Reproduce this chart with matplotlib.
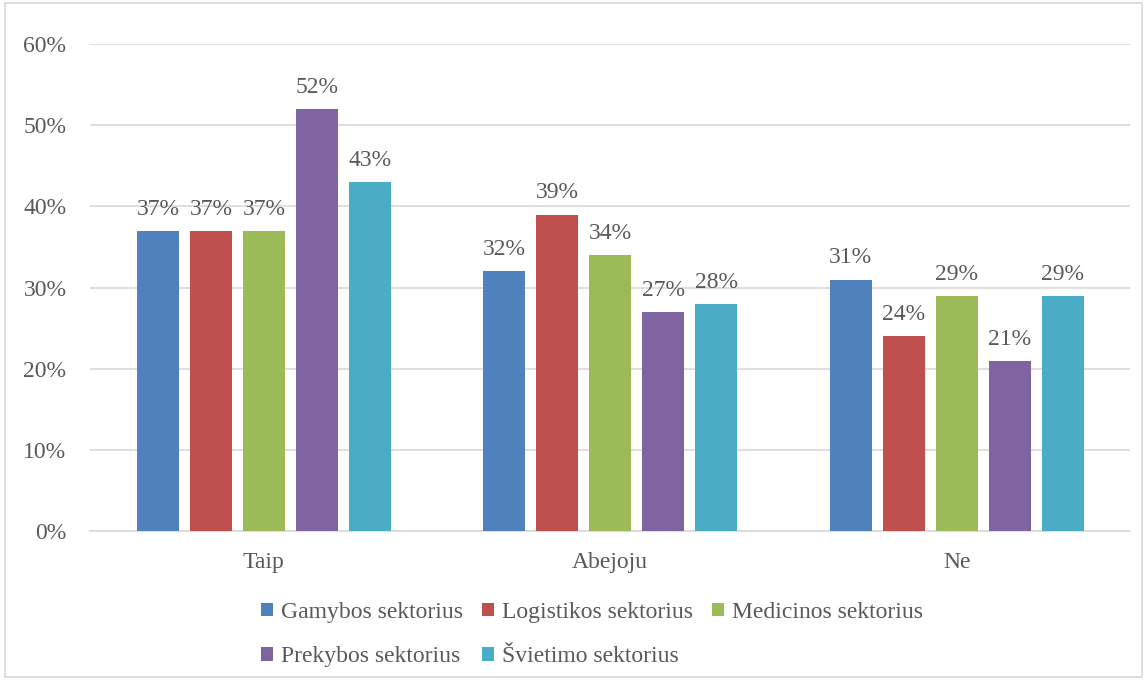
import numpy as np
import matplotlib.pyplot as plt
from matplotlib.patches import Rectangle

categories = ["Taip", "Abejoju", "Ne"]
series_names = ["Gamybos sektorius", "Logistikos sektorius", "Medicinos sektorius",
                "Prekybos sektorius", "Švietimo sektorius"]
gamybos = [37, 32, 31]
logistikos = [37, 39, 24]
medicinos = [37, 34, 29]
prekybos = [52, 27, 21]
svietimo = [43, 28, 29]
yticks = [0, 10, 20, 30, 40, 50, 60]

colors = ["#4F81BD", "#C0504D", "#9BBB59", "#8064A2", "#4BACC6"]
text_col = "#595959"
grid_col = "#D9D9D9"

plt.rcParams["font.family"] = ["Liberation Serif", "DejaVu Serif"]
fs = 17

fig = plt.figure(figsize=(11.47, 6.8), dpi=100)
ax = fig.add_axes([0.0785, 0.219, 0.9065, 0.716])

x = np.arange(len(categories))
width = 0.121
step = 0.153
handles = []
for i, (vals, name) in enumerate(zip([gamybos, logistikos, medicinos, prekybos, svietimo], series_names)):
    pos = x + (i - 2) * step
    b = ax.bar(pos, vals, width, color=colors[i], label=name, zorder=3)
    handles.append(b)
    for p, v in zip(pos, vals):
        ax.annotate(f"{v}%", (p, v), xytext=(0, 8), textcoords="offset points",
                    ha="center", va="bottom", fontsize=fs, color=text_col)

ax.set_xlim(-0.502, 2.5)
ax.set_ylim(0, 60)
ax.set_yticks(yticks)
ax.set_yticklabels([f"{t}%" for t in yticks])
ax.set_xticks(x)
ax.set_xticklabels(categories)
ax.tick_params(axis="both", length=0, labelsize=fs, labelcolor=text_col)
ax.tick_params(axis="y", pad=17)
ax.tick_params(axis="x", pad=15)
ax.grid(axis="y", color=grid_col, linewidth=1.2, zorder=0)
for s in ["top", "right", "left"]:
    ax.spines[s].set_visible(False)
ax.spines["bottom"].set_color(grid_col)
ax.spines["bottom"].set_linewidth(1.2)

order = [0, 3, 1, 4, 2]
leg = fig.legend([handles[k] for k in order], [series_names[k] for k in order],
                 ncol=3, loc="center", bbox_to_anchor=(0.516, 0.067), frameon=False,
                 fontsize=fs, handlelength=0.5, handleheight=0.5, handletextpad=0.35,
                 columnspacing=0.8, labelspacing=1.0, labelcolor=text_col)

fig.patches.append(Rectangle((0.004, 0.004), 0.992, 0.992, transform=fig.transFigure,
                             fill=False, edgecolor=grid_col, linewidth=1.2))

fig.savefig("out.png", dpi=100)
